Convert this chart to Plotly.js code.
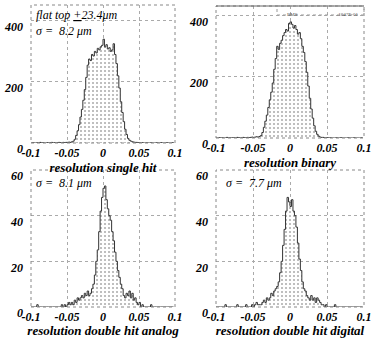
<!DOCTYPE html>
<html>
<head>
<meta charset="utf-8">
<script src="https://cdn.plot.ly/plotly-3.0.1.min.js"></script>
<style>
  html, body { margin: 0; padding: 0; background: #fff; }
  #chart { width: 382px; height: 338px; }
</style>
</head>
<body>
<div id="chart"></div>
<script>
// bins: left edges from -0.1, width 0.002 (100 bins)
const BIN_START = -0.1;
const BIN_WIDTH = 0.002;

const singleHit = [
  0, 1, 0, 0, 1, 0, 2, 0, 1, 0, 0, 1, 0, 1, 2, 0, 1, 0, 1, 2, 1, 0, 2, 1, 2,
  2, 3, 2, 4, 6,
  12, 25, 40, 60, 85, 110, 140, 175, 215, 255,
  275, 270, 290, 285, 300, 295, 310, 305, 315, 320,
  340, 315, 322, 308, 312, 300, 305, 325, 290, 260,
  220, 180, 135, 100, 70, 45, 28, 15, 9, 6,
  4, 3, 2, 2, 1, 1,
  0, 1, 0, 0, 1, 0, 0, 1, 0, 0, 0, 1, 0, 0, 1, 0, 0, 0, 1, 0, 0, 0, 1, 0,
];

const binary = [
  0, 0, 1, 0, 1, 0, 0, 2, 0, 1, 0, 1, 1, 0, 2, 1, 0, 1, 2, 1, 1, 2, 1, 2, 3,
  2, 3, 4, 3, 5,
  8, 18, 35, 55, 75, 100, 125, 150, 180, 225,
  260, 300, 290, 310, 320, 335, 345, 355, 350, 375,
  380, 372, 360, 368, 355, 340, 345, 325, 300, 280,
  250, 215, 170, 130, 95, 65, 40, 22, 12, 6,
  3, 2, 2, 1, 1, 1,
  0, 1, 0, 0, 0, 1, 0, 0, 1, 0, 0, 0, 0, 1, 0, 0, 0, 1, 0, 0, 0, 0, 1, 0,
];

const doubleAnalog = [
  0, 0, 0, 0, 1, 0, 0, 0, 0, 0, 0, 0, 0, 0, 0, 0, 0, 0, 0, 0,
  0, 1, 0, 1, 0,
  1, 2, 1, 2, 1,
  3, 2, 4, 3, 4, 5, 4, 6, 5, 7,
  5, 6, 8, 10, 14, 20, 25, 33, 42, 48,
  52, 53, 47, 43, 40, 38, 33, 29, 24, 20,
  16, 13, 10, 8, 5, 4, 6, 5, 7, 4,
  6, 3, 4, 2, 1, 2,
  0, 1, 0, 0, 0, 0, 0, 1, 0, 0, 0, 0, 0, 0, 0, 0, 0, 0, 0, 0, 0, 0, 0, 0,
];

const doubleDigital = [
  0, 0, 0, 0, 0, 0, 1, 0, 0, 0, 0, 0, 0, 0, 1, 0, 0, 0, 0, 0, 1, 0, 0, 0, 1,
  0, 1, 2, 1, 1,
  1, 2, 3, 2, 4, 3, 4, 6, 5, 7,
  8, 9, 11, 15, 20, 27, 34, 42, 48, 46,
  44, 47, 42, 40, 35, 28, 21, 16, 11, 8,
  7, 5, 4, 3, 5, 3, 4, 2, 4, 3,
  2, 1, 1, 0, 1, 0,
  0, 0, 0, 0, 1, 0, 0, 0, 0, 0, 0, 0, 0, 0, 0, 0, 0, 0, 0, 0, 0, 0, 0, 0,
];

const xTickVals = [-0.1, -0.05, 0, 0.05, 0.1];
const xTickText = ['-0.1', '-0.05', '0', '0.05', '0.1'];
const xTitles = [
  'resolution single hit', 'resolution binary',
  'resolution double hit analog', 'resolution double hit digital',
];
const yTicksBig = [0, 200, 400];
const yTicksSmall = [0, 20, 40, 60];

const W = 382, H = 338;
const px = (x) => x / W;
const py = (y) => 1 - y / H;

const SERIF = '"Liberation Serif", "DejaVu Serif", "Times New Roman", serif';
const tickFont = { family: SERIF, size: 12, style: 'italic', weight: 'bold', color: '#000' };

function hist(y, n) {
  return {
    type: 'scatter', mode: 'lines', y: y, x0: BIN_START, dx: BIN_WIDTH,
    xaxis: 'x' + (n > 1 ? n : ''), yaxis: 'y' + (n > 1 ? n : ''),
    line: { color: '#333', width: 1, shape: 'hv' },
    fill: 'tozeroy',
    fillpattern: { shape: '.', fgcolor: '#aaa', bgcolor: '#fff', size: 4, solidity: 0.2 },
    hoverinfo: 'skip', showlegend: false,
  };
}

function xAxis(domain, anchor, title) {
  return {
    domain: domain, anchor: anchor, range: [-0.1, 0.1],
    tickvals: xTickVals, ticktext: xTickText, tickfont: tickFont,
    showgrid: true, gridcolor: '#aaa', griddash: 'dot', gridwidth: 1,
    zeroline: false, showline: false, ticks: '', ticklabelstandoff: 1,
    title: { text: title, standoff: 0, font: { family: SERIF, size: 13, style: 'italic', weight: 'bold', color: '#000' } },
  };
}

function yAxis(domain, anchor, range, ticks) {
  return {
    domain: domain, anchor: anchor, range: range,
    tickvals: ticks, tickfont: tickFont,
    showgrid: true, gridcolor: '#aaa', griddash: 'dot', gridwidth: 1,
    zeroline: false, showline: false, ticks: '', ticklabelstandoff: 7,
    ticklabelshift: 6,
  };
}

function frame(n) {
  const s = n > 1 ? n : '';
  return {
    type: 'rect', xref: 'x' + s + ' domain', yref: 'y' + s + ' domain',
    x0: 0, x1: 1, y0: 0, y1: 1,
    line: { color: '#888', width: 1, dash: 'dot' },
  };
}

const note = (text, x, y) => ({
  text: text, xref: 'paper', yref: 'paper', x: px(x), y: py(y),
  xanchor: 'left', yanchor: 'middle', showarrow: false,
  font: { family: SERIF, size: 12, style: 'italic', color: '#000' },
});

const layout = {
  width: W, height: H,
  margin: { l: 0, r: 0, t: 0, b: 0 },
  paper_bgcolor: '#fff', plot_bgcolor: '#fff',
  font: { family: SERIF },
  showlegend: false,
  xaxis: xAxis([px(31), px(175)], 'y', xTitles[0]),
  yaxis: yAxis([py(143), py(5)], 'x', [0, 452], yTicksBig),
  xaxis2: xAxis([px(216), px(364)], 'y2', xTitles[1]),
  yaxis2: yAxis([py(138), py(6)], 'x2', [0, 432], yTicksBig),
  xaxis3: xAxis([px(31), px(175)], 'y3', xTitles[2]),
  yaxis3: yAxis([py(307), py(170)], 'x3', [0, 60], yTicksSmall),
  xaxis4: xAxis([px(216), px(364)], 'y4', xTitles[3]),
  yaxis4: yAxis([py(307), py(170)], 'x4', [0, 60], yTicksSmall),
  shapes: [
    frame(1), frame(2), frame(3), frame(4),
    { type: 'line', xref: 'paper', yref: 'paper', x0: px(216), x1: px(364), y0: py(6), y1: py(6),
      line: { color: '#666', width: 1 } },
    { type: 'rect', xref: 'paper', yref: 'paper', x0: px(277), x1: px(364), y0: py(15), y1: py(6),
      line: { color: '#999', width: 1, dash: 'dot' } },
  ],
  annotations: [
    note('flat top <u>+</u>23.4μm', 34, 15),
    note('σ =  8.2 μm', 34, 31),
    note('σ =  8.1 μm', 34, 183),
    note('σ =  7.7 μm', 224, 183),
    { text: 'RMS', xref: 'paper', yref: 'paper', x: px(285), y: py(10), xanchor: 'left', showarrow: false,
      font: { family: SERIF, size: 5, color: '#555' } },
    { text: '.1847E-01', xref: 'paper', yref: 'paper', x: px(360), y: py(10), xanchor: 'right', showarrow: false,
      font: { family: SERIF, size: 5, color: '#555' } },
  ],
};

Plotly.newPlot('chart', [
  hist(singleHit, 1), hist(binary, 2), hist(doubleAnalog, 3), hist(doubleDigital, 4),
], layout, { displayModeBar: false, staticPlot: true });
</script>
</body>
</html>
